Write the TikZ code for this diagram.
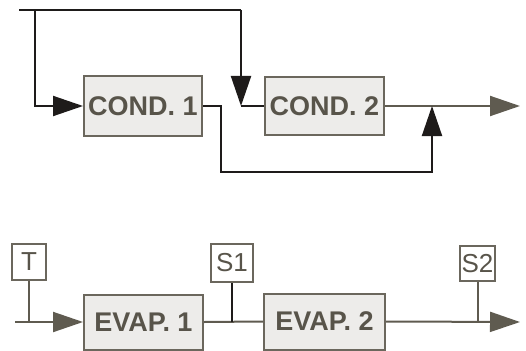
\documentclass[tikz,border=0pt]{standalone}
\usepackage{fontspec}
\setmainfont{Liberation Sans}
\usetikzlibrary{arrows.meta}
\definecolor{blk}{HTML}{1E1B1A}
\definecolor{gry}{HTML}{5F5B50}
\definecolor{boxline}{HTML}{6B675D}
\definecolor{boxfill}{HTML}{EDECEA}
\definecolor{txt}{HTML}{58544A}
\begin{document}
\begin{tikzpicture}[x=1pt,y=-1pt,
  blkline/.style={draw=blk,line width=2pt},
  gryline/.style={draw=gry,line width=2pt},
  tipblk/.style={-{Triangle[length=30pt,width=20pt]}},
  procbox/.style={draw=boxline,fill=boxfill,line width=2pt,inner sep=0pt,
    font=\fontsize{27}{27}\selectfont\bfseries,text=txt},
  tagbox/.style={draw=boxline,fill=white,line width=2pt,inner sep=0pt,
    font=\fontsize{26}{26}\selectfont,text=txt}]
\useasboundingbox (0,0) rectangle (526,350);
% top row
\node[procbox,minimum width=118pt,minimum height=59pt] (cond1) at (143,106) {COND. 1};
\node[procbox,minimum width=119pt,minimum height=57pt] (cond2) at (324.5,106) {COND. 2};
\coordinate (a0) at (19,10);
\coordinate (a1) at (35,10);
\coordinate (a2) at (241,10);
\coordinate (c1) at (221,172);
\coordinate (j) at (432,106);
\coordinate (out1) at (520,106);
\draw[blkline] (a0) -- (a2);
\draw[blkline,tipblk] (a1) |- (cond1.west);
\draw[blkline,tipblk] (a2) -- (a2 |- cond2.west);
\draw[blkline] (a2 |- cond2.west) -- (cond2.west);
\draw[gryline,tipblk] (cond2.east) -- (out1);
\draw[blkline,tipblk] (cond1.east) -| (c1) -| (j);
% bottom row
\node[procbox,minimum width=119pt,minimum height=55pt] (evap1) at (143.5,322) {EVAP. 1};
\node[procbox,minimum width=121pt,minimum height=56pt] (evap2) at (324.5,321.5) {EVAP. 2};
\node[tagbox,minimum width=34pt,minimum height=36pt] (T) at (29,262) {T};
\node[tagbox,minimum width=42pt,minimum height=38pt] (S1) at (232,263) {S1};
\node[tagbox,minimum width=35pt,minimum height=35pt] (S2) at (477.5,263.5) {S2};
\coordinate (in2) at (15,322);
\coordinate (out2) at (520,322);
\draw[gryline,tipblk] (in2) -- (evap1.west);
\draw[gryline] (T.south) -- (T.south |- in2);
\draw[gryline] (evap1.east) -- (evap2.west);
\draw[blkline] (S1.south) -- (S1.south |- evap1.east);
\draw[gryline,tipblk] (evap2.east) -- (out2);
\draw[gryline] (S2.south) -- (S2.south |- out2);
\end{tikzpicture}
\end{document}
